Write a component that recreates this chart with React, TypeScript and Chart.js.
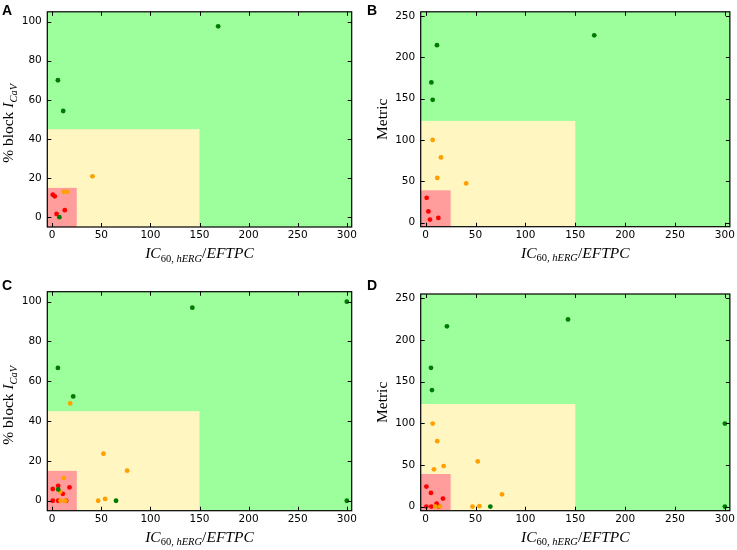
import { useEffect, useRef } from "react";
import { Chart, registerables } from "chart.js";

Chart.register(...registerables);

// tick labels
const X_TICKS = [0, 50, 100, 150, 200, 250, 300];
const PCT_TICKS = [0, 20, 40, 60, 80, 100];
const METRIC_TICKS = [0, 50, 100, 150, 200, 250];

// axis ranges
const X_RANGE = [-5, 305];
const PCT_RANGE = [-5, 105];
const METRIC_RANGE = [-5, 255];

// risk regions: [x upper, y upper]
const PCT_YELLOW = [150, 45];
const PCT_RED = [25, 15];
const METRIC_YELLOW = [150, 123];
const METRIC_RED = [25, 39];

// panel A: % block vs IC60 / EFTPC
const A_GREEN_X = [169, 5.8, 11.2, 7.3];
const A_GREEN_Y = [97.6, 70, 54.3, 0];
const A_ORANGE_X = [41, 12, 15.5];
const A_ORANGE_Y = [20.9, 13, 13];
const A_RED_X = [0.6, 2.6, 4.4, 12.8];
const A_RED_Y = [11.5, 10.7, 1.7, 3.6];

// panel B: metric vs IC60 / EFTPC
const B_GREEN_X = [169, 11.3, 5.7, 7];
const B_GREEN_Y = [226.5, 214.6, 169.6, 148.5];
const B_ORANGE_X = [7, 15.3, 11.6, 40.6];
const B_ORANGE_Y = [100, 78.8, 54, 47.4];
const B_RED_X = [1, 2.7, 4.3, 12.7];
const B_RED_Y = [29.9, 13.5, 3.6, 5.6];

// panel C
const C_GREEN_X = [142.7, 300, 300, 5.8, 21.4, 65, 6.1];
const C_GREEN_Y = [97, 100, 0, 66.7, 52.4, 0, 5.7];
const C_ORANGE_X = [18.3, 52.2, 76.3, 46.8, 53.9, 11.9, 8.1, 8.5, 13.5];
const C_ORANGE_Y = [48.9, 23.6, 15.1, 0, 0.9, 11.4, 4.5, 0, 0];
const C_RED_X = [0.6, 6.1, 17.6, 10.8, 0.6, 6.1, 14.2];
const C_RED_Y = [5.9, 7.5, 6.7, 3.5, 0, 0, 0];

// panel D
const D_GREEN_X = [142.7, 21.3, 5.3, 6.3, 300, 300, 64.8];
const D_GREEN_Y = [224.5, 216.2, 166.4, 139.7, 99.5, 0, 0];
const D_ORANGE_X = [7, 11.6, 18, 8.3, 52.2, 76.5, 46.9, 53.9, 9.7, 14.5];
const D_ORANGE_Y = [99.5, 78.4, 48.6, 44.6, 54.1, 14.7, 0, 0.6, 0, 0];
const D_RED_X = [0.7, 5.3, 17.3, 11, 0.7, 5.7, 13.6];
const D_RED_Y = [23.9, 16.3, 9.5, 3.6, 0, 0, 0];

const GREEN_BG = "#9cff9c";
const YELLOW_BG = "#fff6c2";
const RED_BG = "#ff9c9c";
const GREEN_PT = "#007a00";
const ORANGE_PT = "#ffa000";
const RED_PT = "#ff0000";

const SANS = '"DejaVu Sans", sans-serif';
const SERIF = '"Liberation Serif", "DejaVu Serif", serif';
const BIG = "15.5px " + SERIF;
const BIG_I = "italic 15.5px " + SERIF;
const SUB = "10.5px " + SERIF;
const SUB_I = "italic 10.5px " + SERIF;

type Part = { t: string; font: string; dy?: number };

const X_TITLE: Part[] = [
  { t: "IC", font: BIG_I },
  { t: "60,", font: SUB, dy: 3.5 },
  { t: " hERG", font: SUB_I, dy: 3.5 },
  { t: "/", font: BIG },
  { t: "EFTPC", font: BIG_I },
];
const PCT_TITLE: Part[] = [
  { t: "% block ", font: BIG },
  { t: "I", font: BIG_I },
  { t: "CaV", font: SUB_I, dy: 3.5 },
];
const METRIC_TITLE: Part[] = [{ t: "Metric", font: BIG }];

function drawParts(ctx: CanvasRenderingContext2D, parts: Part[], cx: number, cy: number) {
  let w = 0;
  for (const p of parts) {
    ctx.font = p.font;
    w += ctx.measureText(p.t).width;
  }
  let x = cx - w / 2;
  for (const p of parts) {
    ctx.font = p.font;
    ctx.fillText(p.t, x, cy + (p.dy || 0));
    x += ctx.measureText(p.t).width;
  }
}

const panelPlugin = {
  id: "panel",
  beforeDatasetsDraw(chart: any, _args: any, opts: any) {
    const { ctx, chartArea: a } = chart;
    const { x, y } = chart.scales;
    ctx.save();
    ctx.beginPath();
    ctx.rect(a.left, a.top, a.right - a.left, a.bottom - a.top);
    ctx.clip();
    ctx.fillStyle = GREEN_BG;
    ctx.fillRect(a.left, a.top, a.right - a.left, a.bottom - a.top);
    const yx = x.getPixelForValue(opts.yellow[0]);
    const yy = y.getPixelForValue(opts.yellow[1]);
    ctx.fillStyle = YELLOW_BG;
    ctx.fillRect(a.left, yy, yx - a.left, a.bottom - yy);
    const rx = x.getPixelForValue(opts.red[0]);
    const ry = y.getPixelForValue(opts.red[1]);
    ctx.fillStyle = RED_BG;
    ctx.fillRect(a.left, ry, rx - a.left, a.bottom - ry);
    ctx.restore();
  },
  afterDatasetsDraw(chart: any, _args: any, opts: any) {
    const { ctx, chartArea: a } = chart;
    const { x, y } = chart.scales;
    const tl = 4;
    ctx.save();
    ctx.strokeStyle = "#000";
    ctx.lineWidth = 1;
    ctx.beginPath();
    for (const t of x.ticks) {
      const px = Math.round(x.getPixelForValue(t.value)) + 0.5;
      ctx.moveTo(px, a.bottom);
      ctx.lineTo(px, a.bottom - tl);
      ctx.moveTo(px, a.top);
      ctx.lineTo(px, a.top + tl);
    }
    for (const t of y.ticks) {
      const py = Math.round(y.getPixelForValue(t.value)) + 0.5;
      ctx.moveTo(a.left, py);
      ctx.lineTo(a.left + tl, py);
      ctx.moveTo(a.right, py);
      ctx.lineTo(a.right - tl, py);
    }
    ctx.stroke();
    ctx.lineWidth = 1.2;
    ctx.strokeRect(a.left, a.top, a.right - a.left, a.bottom - a.top);

    ctx.fillStyle = "#000";
    ctx.textBaseline = "alphabetic";
    drawParts(ctx, X_TITLE, (a.left + a.right) / 2, a.bottom + 31);
    ctx.translate(a.left - 34, (a.top + a.bottom) / 2 + opts.yShift);
    ctx.rotate(-Math.PI / 2);
    drawParts(ctx, opts.yTitle, 0, 0);
    ctx.restore();
  },
};

type PanelProps = {
  left: number;
  top: number;
  width: number;
  height: number;
  yAxisW: number;
  xAxisH: number;
  padTop: number;
  padRight: number;
  yRange: number[];
  yTicks: number[];
  yTitle: Part[];
  yShift: number;
  yellow: number[];
  red: number[];
  gx: number[];
  gy: number[];
  ox: number[];
  oy: number[];
  rx: number[];
  ry: number[];
};

const toPts = (xs: number[], ys: number[]) => xs.map((v, i) => ({ x: v, y: ys[i] }));

function Panel(p: PanelProps) {
  const ref = useRef<HTMLCanvasElement | null>(null);

  useEffect(() => {
    if (!ref.current) return;
    const tickFont = { family: SANS, size: 10.5 };
    const chart = new Chart(ref.current, {
      type: "scatter",
      data: {
        datasets: [
          { data: toPts(p.gx, p.gy), backgroundColor: GREEN_PT, order: 0 },
          { data: toPts(p.ox, p.oy), backgroundColor: ORANGE_PT, order: 1 },
          { data: toPts(p.rx, p.ry), backgroundColor: RED_PT, order: 2 },
        ],
      },
      options: {
        animation: false,
        responsive: false,
        maintainAspectRatio: false,
        layout: { padding: { left: 0, top: p.padTop, right: p.padRight, bottom: 0 } },
        elements: { point: { radius: 2.4, hoverRadius: 2.4, borderWidth: 0 } },
        plugins: {
          legend: { display: false },
          tooltip: { enabled: false },
          panel: { yellow: p.yellow, red: p.red, yTitle: p.yTitle, yShift: p.yShift },
        } as any,
        scales: {
          x: {
            type: "linear",
            min: X_RANGE[0],
            max: X_RANGE[1],
            afterBuildTicks: (s: any) => {
              s.ticks = X_TICKS.map((v) => ({ value: v }));
            },
            afterFit: (s: any) => {
              s.height = p.xAxisH;
            },
            grid: { display: false, drawTicks: false },
            border: { display: false },
            ticks: { font: tickFont, color: "#000", padding: 2, maxRotation: 0, autoSkip: false },
          },
          y: {
            type: "linear",
            min: p.yRange[0],
            max: p.yRange[1],
            afterBuildTicks: (s: any) => {
              s.ticks = p.yTicks.map((v) => ({ value: v }));
            },
            afterFit: (s: any) => {
              s.width = p.yAxisW;
            },
            grid: { display: false, drawTicks: false },
            border: { display: false },
            ticks: { font: tickFont, color: "#000", padding: 5.5, autoSkip: false },
          },
        },
      },
      plugins: [panelPlugin as any],
    });
    return () => chart.destroy();
  }, []);

  return (
    <canvas
      ref={ref}
      width={p.width}
      height={p.height}
      style={{ position: "absolute", left: p.left, top: p.top, width: p.width, height: p.height }}
    />
  );
}

const letterStyle = (left: number, top: number): React.CSSProperties => ({
  position: "absolute",
  left,
  top,
  font: 'bold 14px "Liberation Sans", Arial, sans-serif',
  lineHeight: "14px",
  color: "#000",
});

export default function App() {
  return (
    <div style={{ position: "absolute", left: 0, top: 0, width: 737, height: 550, background: "#fff" }}>
      <Panel
        left={0} top={0} width={368} height={270}
        yAxisW={47.3} xAxisH={43} padTop={6} padRight={16.3}
        yRange={PCT_RANGE} yTicks={PCT_TICKS} yTitle={PCT_TITLE} yShift={4}
        yellow={PCT_YELLOW} red={PCT_RED}
        gx={A_GREEN_X} gy={A_GREEN_Y} ox={A_ORANGE_X} oy={A_ORANGE_Y} rx={A_RED_X} ry={A_RED_Y}
      />
      <Panel
        left={368} top={0} width={369} height={270}
        yAxisW={52.7} xAxisH={43.3} padTop={9.3} padRight={6.3}
        yRange={METRIC_RANGE} yTicks={METRIC_TICKS} yTitle={METRIC_TITLE} yShift={0}
        yellow={METRIC_YELLOW} red={METRIC_RED}
        gx={B_GREEN_X} gy={B_GREEN_Y} ox={B_ORANGE_X} oy={B_ORANGE_Y} rx={B_RED_X} ry={B_RED_Y}
      />
      <Panel
        left={0} top={270} width={368} height={280}
        yAxisW={47.3} xAxisH={39.3} padTop={21.7} padRight={16.3}
        yRange={PCT_RANGE} yTicks={PCT_TICKS} yTitle={PCT_TITLE} yShift={4}
        yellow={PCT_YELLOW} red={PCT_RED}
        gx={C_GREEN_X} gy={C_GREEN_Y} ox={C_ORANGE_X} oy={C_ORANGE_Y} rx={C_RED_X} ry={C_RED_Y}
      />
      <Panel
        left={368} top={270} width={369} height={280}
        yAxisW={52.7} xAxisH={39.3} padTop={24} padRight={6.3}
        yRange={METRIC_RANGE} yTicks={METRIC_TICKS} yTitle={METRIC_TITLE} yShift={0}
        yellow={METRIC_YELLOW} red={METRIC_RED}
        gx={D_GREEN_X} gy={D_GREEN_Y} ox={D_ORANGE_X} oy={D_ORANGE_Y} rx={D_RED_X} ry={D_RED_Y}
      />
      <div style={letterStyle(2, 3)}>A</div>
      <div style={letterStyle(367, 3)}>B</div>
      <div style={letterStyle(2, 278)}>C</div>
      <div style={letterStyle(367, 278)}>D</div>
    </div>
  );
}
